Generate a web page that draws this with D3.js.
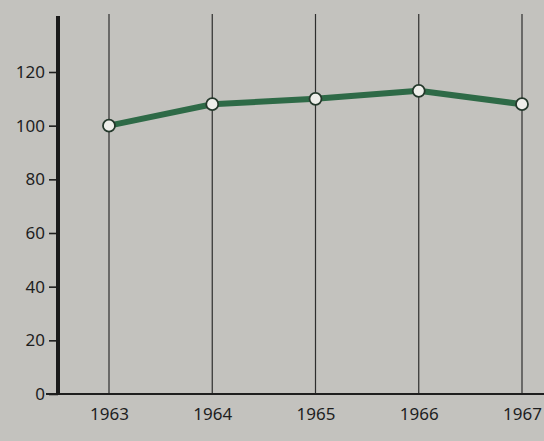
<!DOCTYPE html>
<html><head><meta charset="utf-8">
<script src="https://cdn.jsdelivr.net/npm/d3@7"></script>
<style>html,body{margin:0;padding:0;background:#c3c2be;}svg{display:block;}</style>
</head><body>
<script>
const years = ["1963","1964","1965","1966","1967"];
const values = [100, 108, 110, 113, 108];
const yTicks = [0, 20, 40, 60, 80, 100, 120];

const W = 544, H = 441;
const svg = d3.select("body").append("svg").attr("width", W).attr("height", H);
svg.append("rect").attr("width", W).attr("height", H).attr("fill", "#c3c2be");

const x = d3.scalePoint().domain(years).range([109, 522]);
const y = d3.scaleLinear().domain([0, 120]).range([394, 72]);
const font = "'Noto Sans', Lato, sans-serif";

// vertical grid lines
svg.append("g").selectAll("line").data(years).join("line")
  .attr("x1", d => x(d)).attr("x2", d => x(d))
  .attr("y1", y(0)).attr("y2", 14)
  .attr("stroke", "#2e2e2e").attr("stroke-width", 1.2);

// x baseline
svg.append("line").attr("x1", 46).attr("x2", W).attr("y1", y(0)).attr("y2", y(0))
  .attr("stroke", "#1e1e1e").attr("stroke-width", 2);

// y axis
const yAxis = d3.axisLeft(y).tickValues(yTicks).tickSize(9).tickPadding(4);
const gy = svg.append("g").attr("transform", "translate(58,0)").call(yAxis);
gy.select(".domain").remove();
gy.selectAll(".tick line").attr("stroke", "#1e1e1e").attr("stroke-width", 1.6);
gy.selectAll(".tick text").attr("font-family", font).attr("font-size", 17).attr("fill", "#1e1e1e");
svg.append("line").attr("x1", 58).attr("x2", 58).attr("y1", 16).attr("y2", y(0) + 1)
  .attr("stroke", "#1a1a1a").attr("stroke-width", 4);

// x labels
const xAxis = d3.axisBottom(x).tickSize(0).tickPadding(14);
const gx = svg.append("g").attr("transform", `translate(0,${y(0)})`).call(xAxis);
gx.select(".domain").remove();
gx.selectAll(".tick text").attr("font-family", font).attr("font-size", 17).attr("fill", "#1e1e1e");

// data line
const line = d3.line().x((d, i) => x(years[i])).y(d => y(d));
svg.append("path").datum(values).attr("d", line)
  .attr("fill", "none").attr("stroke", "#2e6a47").attr("stroke-width", 6)
  .attr("stroke-linejoin", "round");

svg.append("g").selectAll("circle").data(values).join("circle")
  .attr("cx", (d, i) => x(years[i])).attr("cy", d => y(d)).attr("r", 6)
  .attr("fill", "#eeeeea").attr("stroke", "#24382b").attr("stroke-width", 1.8);
</script>
</body></html>
